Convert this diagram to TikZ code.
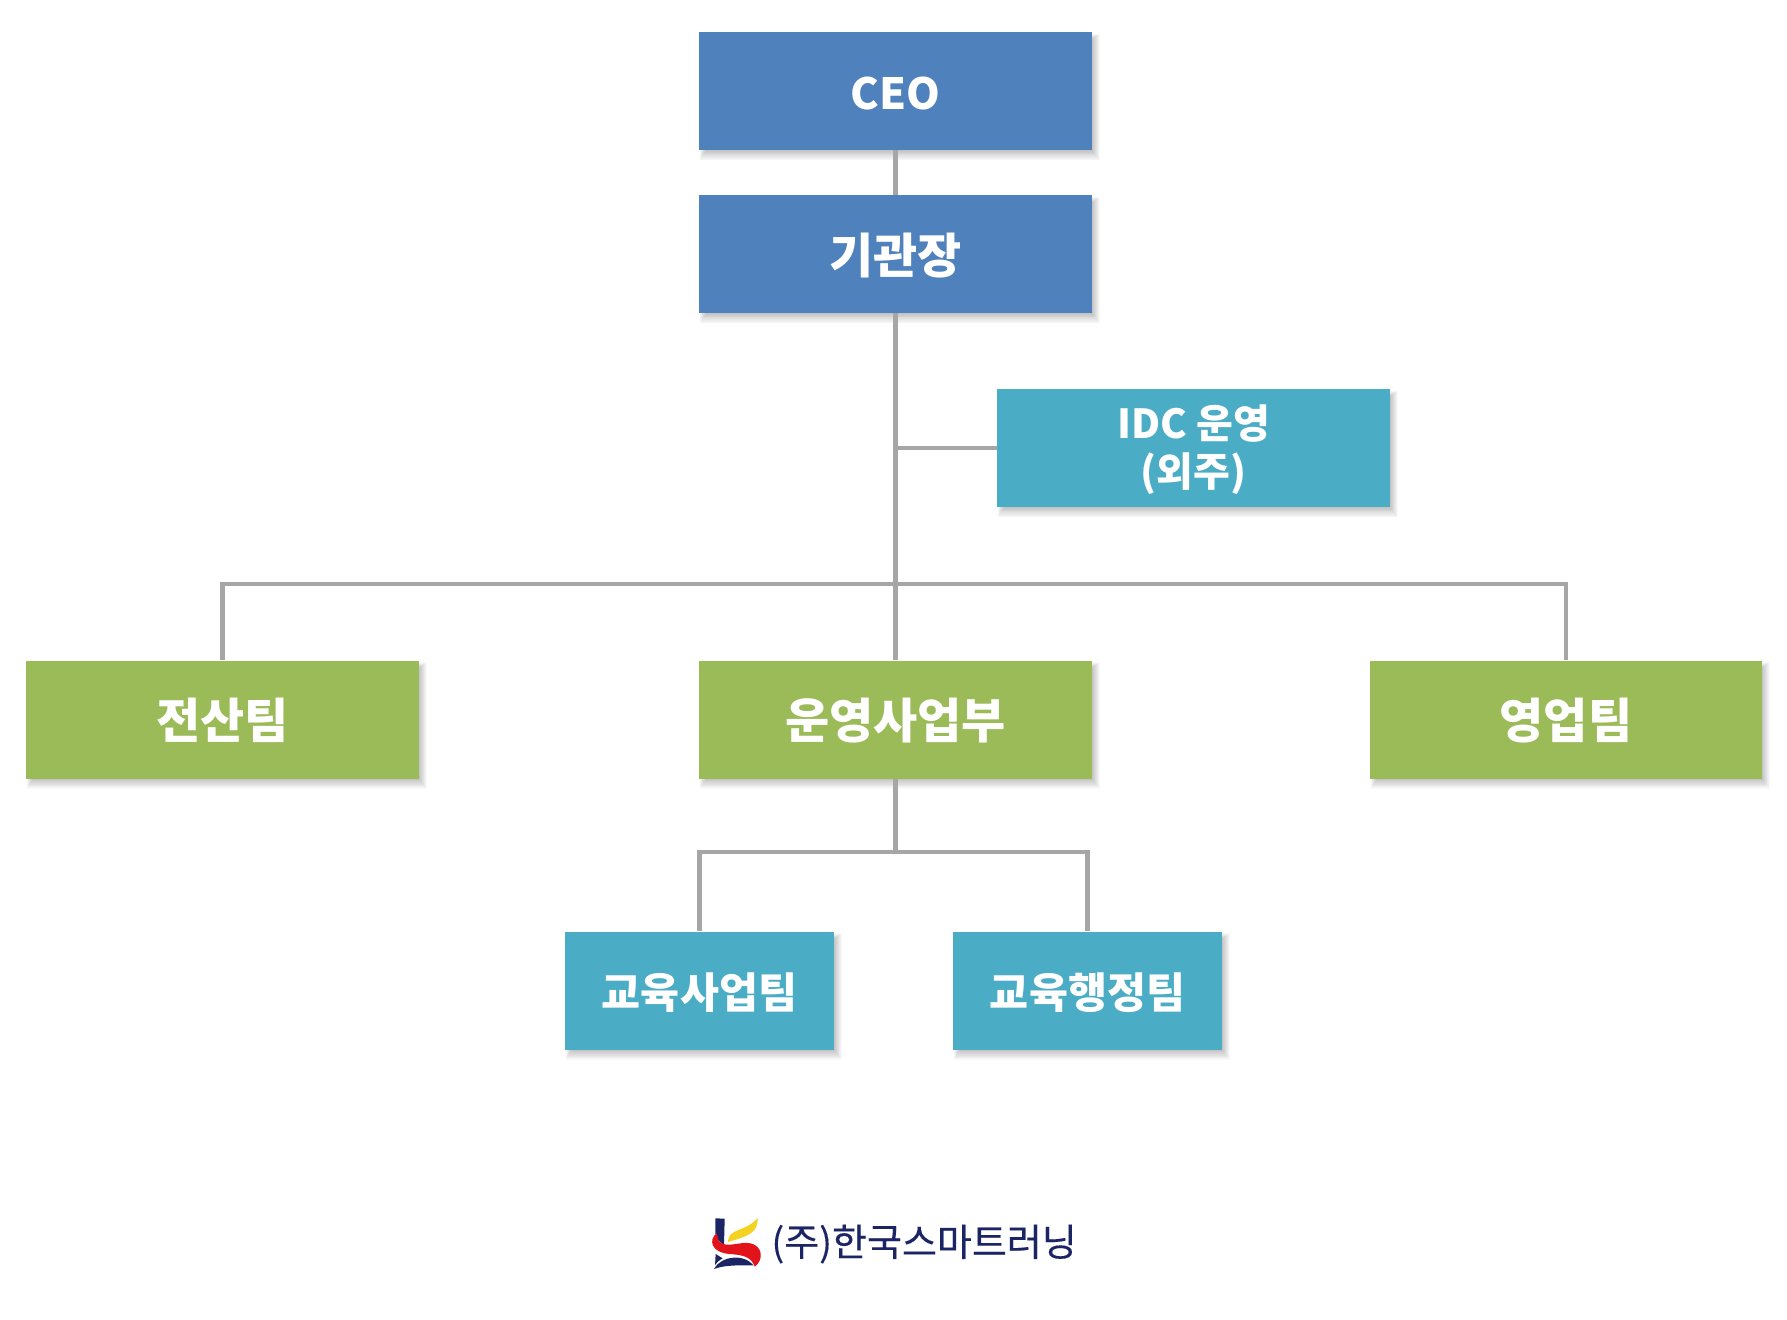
\documentclass[tikz,border=0pt]{standalone}
\usepackage{fontspec}
\setmainfont{Noto Sans CJK KR}
\usetikzlibrary{backgrounds}
\definecolor{bluebox}{HTML}{4F81BD}
\definecolor{greenbox}{HTML}{9BBB59}
\definecolor{tealbox}{HTML}{4BACC6}
\definecolor{linkgray}{HTML}{A6A6A6}
\definecolor{navy}{HTML}{1B2465}
\definecolor{logored}{HTML}{E3131B}
\definecolor{logoyellow}{HTML}{F4D320}
\tikzset{
  x=.5pt,y=-.5pt,
  box/.style={inner sep=0pt,align=center,text=white,font=\fontsize{24}{26}\selectfont\bfseries},
  wide/.style={box,minimum width=196.5pt,minimum height=59pt},
  narrow/.style={box,minimum width=134.5pt,minimum height=59pt},
  link/.style={draw=linkgray,line width=2.4pt},
}
\newcommand{\softshadow}[1]{%
  \foreach \s in {0,...,11}{
    \fill[black,opacity=.02]
      ([xshift={(\s*.55+1)*.5pt},yshift={(-\s*.5-2)*.5pt}]#1.north west) rectangle
      ([xshift={(7.5-\s*.65)*.5pt},yshift={(-10+\s*.85)*.5pt}]#1.south east);
  }}
\newcommand{\lowered}[2]{\raisebox{-#1}[\height][\depth]{#2}}
\begin{document}
\begin{tikzpicture}
\useasboundingbox (0,0) rectangle (1787,1320);
\node[wide,fill=bluebox,font=\fontsize{21.5}{24}\selectfont\bfseries] (ceo) at (895.5,91) {\lowered{1.1pt}{CEO}};
\node[wide,fill=bluebox] (head) at (895.5,254) {\lowered{.6pt}{기관장}};
\node[wide,fill=tealbox,font=\fontsize{20}{23}\selectfont\bfseries] (idc) at (1193.5,448) {\lowered{2.3pt}{\begin{tabular}{@{}c@{}}IDC 운영\\(외주)\end{tabular}}};
\node[wide,fill=greenbox] (it) at (222.5,719.5) {\lowered{.6pt}{전산팀}};
\node[wide,fill=greenbox] (ops) at (895.5,719.5) {\lowered{.6pt}{운영사업부}};
\node[wide,fill=greenbox,minimum width=196pt] (sales) at (1566,719.5) {\lowered{.6pt}{영업팀}};
\node[narrow,fill=tealbox,font=\fontsize{21.2}{23}\selectfont\bfseries] (edubiz) at (699.5,990.5) {\lowered{1.1pt}{교육사업팀}};
\node[narrow,fill=tealbox,font=\fontsize{21.2}{23}\selectfont\bfseries] (eduadm) at (1087.5,990.5) {\lowered{1.1pt}{교육행정팀}};
\coordinate (busc) at (895.5,584);
\coordinate (lowc) at (895.5,852);
\begin{scope}[on background layer]
  \fill[white] (0,0) rectangle (1787,1320);
  \softshadow{ceo}\softshadow{head}\softshadow{idc}\softshadow{it}
  \softshadow{ops}\softshadow{sales}\softshadow{edubiz}\softshadow{eduadm}
  \draw[link] (ceo.south) -- (head.north);
  \draw[link] (head.south) -- (ops.north);
  \draw[link] (head.south |- idc.west) -- (idc.west);
  \draw[link,line join=miter] (it.north) |- (busc) -| (sales.north);
  \draw[link] (ops.south) -- (lowc);
  \draw[link] (edubiz.north) |- (lowc) -| (eduadm.north);
\end{scope}
% logo
\begin{scope}[shift={(680,1190)},x=.1667pt,y=-.1667pt]
  \fill[navy] (106,85) -- (134,86) -- (132,165) .. controls (118,155) and (108,145) .. (106,130) -- cycle;
  \fill[logoyellow] (144,156) .. controls (146,112) and (195,128) .. (233,84) .. controls (235,128) and (205,138) .. (144,156) -- cycle;
  \fill[logored] (110,130) .. controls (85,148) and (92,188) .. (150,192) .. controls (190,195) and (213,200) .. (224,230) .. controls (252,210) and (248,168) .. (212,160) .. controls (180,153) and (135,178) .. (116,152) -- cycle;
  \fill[navy] (107,192) -- (128,205) .. controls (115,212) and (108,220) .. (105,226) -- cycle;
  \fill[navy] (102,237) .. controls (120,200) and (190,188) .. (220,226) .. controls (180,226) and (135,224) .. (102,237) -- cycle;
\end{scope}
\node[inner sep=0pt,anchor=west,text=navy,font=\fontsize{19}{21}\selectfont\addfontfeature{FakeBold=.25}] (brand) at (771,1244) {(주)한국스마트러닝};
\end{tikzpicture}
\end{document}
